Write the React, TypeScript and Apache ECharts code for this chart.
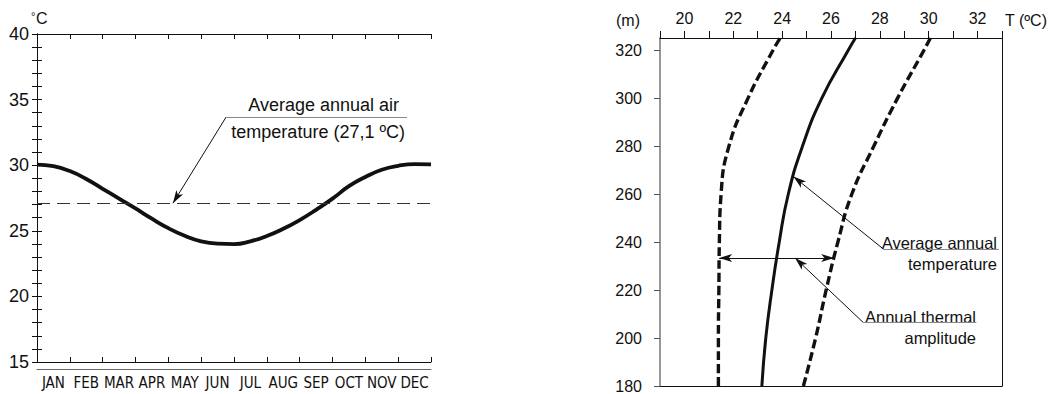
import React, { useEffect, useRef } from 'react';
import * as echarts from 'echarts';

// ---- Left chart data ----
const MONTHS = ['JAN', 'FEB', 'MAR', 'APR', 'MAY', 'JUN', 'JUL', 'AUG', 'SEP', 'OCT', 'NOV', 'DEC'];
const AIR_MONTH = [0, 0.5, 1, 1.5, 2, 2.5, 3, 3.5, 4, 4.5, 5, 5.5, 6, 6.5, 7, 7.5, 8, 8.5, 9, 9.5, 10, 10.5, 11, 11.5, 12];
const AIR_TEMP = [30.05, 29.93, 29.55, 28.95, 28.2, 27.45, 26.7, 25.92, 25.2, 24.62, 24.2, 24.02, 23.99, 24.2, 24.6, 25.15, 25.82, 26.6, 27.45, 28.4, 29.1, 29.65, 29.95, 30.08, 30.07];
const AIR_MEAN = 27.1;
const AIR_Y_LABELS = [15, 20, 25, 30, 35, 40];

// ---- Right chart data ----
const ALT = [180, 200, 220, 240, 260, 280, 300, 320, 325.2];
const T_MIN = [21.39, 21.39, 21.41, 21.43, 21.5, 21.82, 22.6, 23.62, 23.92];
const T_AVG = [23.17, 23.33, 23.58, 23.88, 24.25, 24.83, 25.62, 26.7, 27.0];
const T_MAX = [24.87, 25.37, 25.8, 26.28, 26.85, 27.75, 28.72, 29.8, 30.07];
const ALT_TICKS = [180, 200, 220, 240, 260, 280, 300, 320];
const T_LABELS = [20, 22, 24, 26, 28, 30, 32];

const FONT = "'Liberation Sans', Arial, sans-serif";
const NARROW = "'Liberation Sans Narrow', 'Arial Narrow', 'DejaVu Sans Condensed', 'Liberation Sans', sans-serif";
const INK = '#111';

const zip = (a: number[], b: number[]) => a.map((v, i) => [v, b[i]]);

export default function App() {
  const ref = useRef<HTMLDivElement>(null);
  useEffect(() => {
    if (!ref.current) return;
    const chart = echarts.init(ref.current, null, { renderer: 'svg' });
    const arrowEnd = { symbol: 'arrow', symbolSize: [6, 13] };
    const noEnd = { symbol: 'none' };
    const thin = { color: INK, width: 1, type: 'solid' as const };
    const grey = { color: '#888', width: 1, type: 'solid' as const };

    const option: any = {
      animation: false,
      backgroundColor: '#fff',
      grid: [
        { left: 37, top: 34, width: 394, height: 328, containLabel: false },
        { left: 660, top: 38, width: 342, height: 354.5, containLabel: false },
      ],
      xAxis: [
        {
          gridIndex: 0, type: 'value', min: 0, max: 12, interval: 1, position: 'bottom',
          axisLine: { lineStyle: { color: INK, width: 1 } },
          axisTick: { inside: true, length: 5, lineStyle: { color: INK } },
          axisLabel: { show: false }, splitLine: { show: false },
        },
        {
          gridIndex: 0, type: 'value', min: 0, max: 12, interval: 1, position: 'top',
          axisLine: { lineStyle: { color: INK, width: 1 } },
          axisTick: { inside: true, length: 5, lineStyle: { color: INK } },
          axisLabel: { show: false }, splitLine: { show: false },
        },
        {
          gridIndex: 0, type: 'category', data: MONTHS, position: 'bottom', offset: 7, boundaryGap: true,
          axisLine: { lineStyle: { color: '#666', width: 1 } },
          axisTick: { inside: false, length: 30, interval: 0, lineStyle: { color: '#666' } },
          axisLabel: { interval: 0, fontSize: 15, fontFamily: NARROW, color: INK, margin: 6 },
          splitLine: { show: false },
        },
        {
          gridIndex: 1, type: 'value', min: 19, max: 33, interval: 1, position: 'top',
          axisLine: { lineStyle: { color: INK, width: 1 } },
          axisTick: { inside: false, length: 7, lineStyle: { color: INK } },
          axisLabel: {
            fontSize: 16, fontFamily: FONT, color: INK, margin: 12,
            customValues: T_LABELS,
          },
          splitLine: { show: false },
        },
        {
          gridIndex: 1, type: 'value', min: 19, max: 33, interval: 1, position: 'bottom',
          axisLine: { lineStyle: { color: INK, width: 1 } },
          axisTick: { show: false }, axisLabel: { show: false }, splitLine: { show: false },
        },
      ],
      yAxis: [
        {
          gridIndex: 0, type: 'value', min: 15, max: 40, interval: 1, position: 'left',
          axisLine: { show: true, lineStyle: { color: INK, width: 1 } },
          axisTick: { show: true, inside: true, length: 5, lineStyle: { color: INK } },
          axisLabel: { fontSize: 18, fontFamily: FONT, color: INK, margin: 8, customValues: AIR_Y_LABELS },
          splitLine: { show: false },
        },
        {
          gridIndex: 0, type: 'value', min: 15, max: 40, interval: 1, position: 'right',
          axisLine: { show: true, lineStyle: { color: INK, width: 1 } },
          axisTick: { show: true, inside: true, length: 5, lineStyle: { color: INK } },
          axisLabel: { show: false }, splitLine: { show: false },
        },
        {
          gridIndex: 1, type: 'value', min: 180, max: 325.2, interval: 20, position: 'left',
          axisLine: { show: true, lineStyle: { color: '#777', width: 1.5 } },
          axisTick: { show: true, inside: false, length: 6, lineStyle: { color: '#555' }, customValues: ALT_TICKS },
          axisLabel: { fontSize: 16, fontFamily: FONT, color: INK, margin: 18, customValues: ALT_TICKS },
          splitLine: { show: false },
        },
        {
          gridIndex: 1, type: 'value', min: 180, max: 325.2, interval: 20, position: 'right',
          axisLine: { show: true, lineStyle: { color: INK, width: 1 } },
          axisTick: { show: false }, axisLabel: { show: false }, splitLine: { show: false },
        },
      ],
      series: [
        {
          type: 'line', xAxisIndex: 0, yAxisIndex: 0,
          data: zip(AIR_MONTH, AIR_TEMP),
          smooth: true, symbol: 'none',
          lineStyle: { color: INK, width: 3.8 },
          markLine: {
            silent: true, symbol: 'none', label: { show: false },
            data: [
              { yAxis: AIR_MEAN, lineStyle: { color: '#333', width: 1, type: [13, 7] } },
              [
                { coord: [5.76, 33.67], ...noEnd, lineStyle: thin },
                { coord: [4.14, AIR_MEAN], ...arrowEnd },
              ],
              [
                { coord: [5.76, 33.67], ...noEnd, lineStyle: grey },
                { coord: [11.27, 33.67], ...noEnd },
              ],
            ],
          },
        },
        {
          type: 'line', xAxisIndex: 3, yAxisIndex: 2,
          data: zip(T_MIN, ALT),
          smooth: true, symbol: 'none',
          lineStyle: { color: INK, width: 3.4, type: [9, 4] },
        },
        {
          type: 'line', xAxisIndex: 3, yAxisIndex: 2,
          data: zip(T_AVG, ALT),
          smooth: true, symbol: 'none',
          lineStyle: { color: INK, width: 3 },
          markLine: {
            silent: true, symbol: 'none', label: { show: false },
            data: [
              [
                { coord: [28.15, 237.1], ...noEnd, lineStyle: thin },
                { coord: [24.46, 267.4], ...arrowEnd },
              ],
              [
                { coord: [28.15, 237.1], ...noEnd, lineStyle: grey },
                { coord: [32.87, 237.1], ...noEnd },
              ],
              [
                { coord: [21.42, 233.4], ...arrowEnd, lineStyle: thin },
                { coord: [26.13, 233.4], ...arrowEnd },
              ],
              [
                { coord: [27.31, 206.6], ...noEnd, lineStyle: thin },
                { coord: [24.53, 233.4], ...arrowEnd },
              ],
              [
                { coord: [27.31, 206.6], ...noEnd, lineStyle: grey },
                { coord: [31.95, 206.6], ...noEnd },
              ],
            ],
          },
        },
        {
          type: 'line', xAxisIndex: 3, yAxisIndex: 2,
          data: zip(T_MAX, ALT),
          smooth: true, symbol: 'none',
          lineStyle: { color: INK, width: 3.4, type: [9, 4] },
        },
      ],
      graphic: [
        { type: 'text', x: 31, y: 10, style: { text: '°', fontSize: 11, fontFamily: FONT, fill: INK, align: 'left', verticalAlign: 'top' } },
        { type: 'text', x: 36, y: 18.5, style: { text: 'C', fontSize: 16, fontFamily: FONT, fill: INK, align: 'left', verticalAlign: 'middle' } },
        { type: 'text', x: 399, y: 105, style: { text: 'Average annual air', fontSize: 18, fontFamily: FONT, fill: INK, align: 'right', verticalAlign: 'middle' } },
        { type: 'text', x: 405, y: 132, style: { text: 'temperature (27,1 ºC)', fontSize: 18, fontFamily: FONT, fill: INK, align: 'right', verticalAlign: 'middle' } },
        { type: 'text', x: 628, y: 20.5, style: { text: '(m)', fontSize: 16, fontFamily: FONT, fill: INK, align: 'center', verticalAlign: 'middle' } },
        { type: 'text', x: 1005, y: 20.5, style: { text: 'T (ºC)', fontSize: 16, fontFamily: FONT, fill: INK, align: 'left', verticalAlign: 'middle' } },
        { type: 'text', x: 997, y: 243, style: { text: 'Average annual', fontSize: 16.5, fontFamily: FONT, fill: INK, align: 'right', verticalAlign: 'middle' } },
        { type: 'text', x: 997, y: 263.5, style: { text: 'temperature', fontSize: 16.5, fontFamily: FONT, fill: INK, align: 'right', verticalAlign: 'middle' } },
        { type: 'text', x: 976, y: 317, style: { text: 'Annual thermal', fontSize: 16.5, fontFamily: FONT, fill: INK, align: 'right', verticalAlign: 'middle' } },
        { type: 'text', x: 976, y: 337.5, style: { text: 'amplitude', fontSize: 16.5, fontFamily: FONT, fill: INK, align: 'right', verticalAlign: 'middle' } },
      ],
    };
    chart.setOption(option);
    return () => chart.dispose();
  }, []);
  return (
    <div
      ref={ref}
      style={{ position: 'absolute', left: 0, top: 0, width: 1052, height: 394, background: '#fff' }}
    />
  );
}
